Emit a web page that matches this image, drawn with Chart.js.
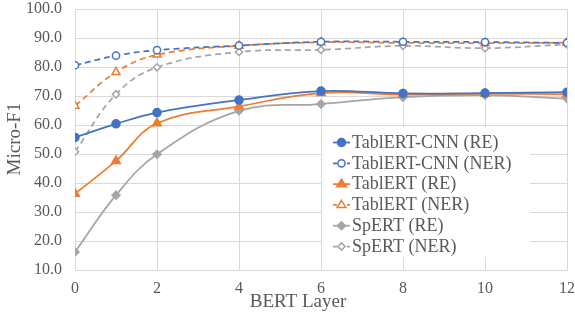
<!DOCTYPE html>
<html>
<head>
<meta charset="utf-8">
<script src="https://cdn.jsdelivr.net/npm/chart.js@4.4.0/dist/chart.umd.min.js"></script>
<style>
html,body{margin:0;padding:0;background:#fff;}
#wrap{width:575px;height:320px;}
</style>
</head>
<body>
<div id="wrap"><canvas id="c" width="575" height="320"></canvas></div>
<script>
const layers = [0, 1, 2, 4, 6, 8, 10, 12];
const xTicks = [0, 2, 4, 6, 8, 10, 12];
const yTicks = [10, 20, 30, 40, 50, 60, 70, 80, 90, 100];
const seriesNames = ["TablERT-CNN (RE)", "TablERT-CNN (NER)", "TablERT (RE)", "TablERT (NER)", "SpERT (RE)", "SpERT (NER)"];
const cnnRE  = [55.7, 60.4, 64.3, 68.6, 71.7, 70.9, 71.0, 71.3];
const cnnNER = [80.6, 83.9, 85.8, 87.4, 88.7, 88.7, 88.6, 88.3];
const tabRE  = [36.3, 47.6, 60.6, 66.4, 71.0, 70.5, 70.8, 70.6];
const tabNER = [66.6, 78.2, 84.2, 87.3, 88.5, 88.3, 88.2, 88.4];
const spRE   = [16.2, 35.8, 49.9, 64.9, 67.2, 69.6, 70.3, 69.1];
const spNER  = [50.8, 70.6, 79.9, 85.2, 85.9, 87.3, 86.5, 87.8];
const xTitle = "BERT Layer";
const yTitle = "Micro-F1";

const BLUE = "#4472C4", ORANGE = "#ED7D31", GRAY = "#A5A5A5";
const FONT = "'Liberation Serif', 'Times New Roman', serif";
const TXT = "#595959";

function pts(arr){ return layers.map((x,i)=>({x:x, y:arr[i]})); }

function ds(label, data, color, style, filled, dashed, radius){
  return {
    label: label, data: pts(data),
    borderColor: color, backgroundColor: filled ? color : "#ffffff",
    borderWidth: 1.75, borderDash: dashed ? [6,4] : [],
    pointStyle: style, pointRadius: radius, pointBorderWidth: 1.5,
    pointBorderColor: color, pointBackgroundColor: filled ? color : "#ffffff",
    tension: 0.4, fill: false
  };
}

const datasets = [
  ds(seriesNames[0], cnnRE,  BLUE,   "circle",   true,  false, 4),
  ds(seriesNames[1], cnnNER, BLUE,   "circle",   false, true,  3.6),
  ds(seriesNames[2], tabRE,  ORANGE, "triangle", true,  false, 5),
  ds(seriesNames[3], tabNER, ORANGE, "triangle", false, true,  4.6),
  ds(seriesNames[4], spRE,   GRAY,   "rectRot",  true,  false, 4),
  ds(seriesNames[5], spNER,  GRAY,   "rectRot",  false, true,  3.6)
];

function drawMarker(ctx, style, x, y, r, color, filled){
  ctx.save();
  ctx.setLineDash([]);
  ctx.beginPath();
  if(style === "circle"){
    ctx.arc(x, y, r, 0, Math.PI*2);
  } else if(style === "triangle"){
    ctx.moveTo(x, y - r);
    ctx.lineTo(x + r*0.866*1.1, y + r*0.5*1.1);
    ctx.lineTo(x - r*0.866*1.1, y + r*0.5*1.1);
    ctx.closePath();
  } else {
    ctx.moveTo(x, y - r); ctx.lineTo(x + r, y); ctx.lineTo(x, y + r); ctx.lineTo(x - r, y); ctx.closePath();
  }
  ctx.fillStyle = filled ? color : "#ffffff";
  ctx.fill();
  ctx.lineWidth = 1.5; ctx.strokeStyle = color; ctx.stroke();
  ctx.restore();
}

const extras = {
  id: "extras",
  afterDraw(chart){
    const ctx = chart.ctx;
    ctx.save();
    ctx.fillStyle = TXT;
    ctx.font = "19px " + FONT;
    ctx.textAlign = "center"; ctx.textBaseline = "middle";
    ctx.fillText(xTitle, 298, 302);
    ctx.translate(15, 139);
    ctx.rotate(-Math.PI/2);
    ctx.fillText(yTitle, 0, 0);
    ctx.restore();
    ctx.save();
    ctx.fillStyle = "#ffffff";
    ctx.fillRect(322, 127, 208, 130);
    ctx.font = "18px " + FONT;
    ctx.textAlign = "left"; ctx.textBaseline = "middle";
    chart.data.datasets.forEach((d, i) => {
      const y = 142.5 + i*20.8;
      ctx.save();
      ctx.strokeStyle = d.borderColor; ctx.lineWidth = 1.75;
      ctx.setLineDash(d.borderDash.length ? [4,3] : []);
      ctx.beginPath(); ctx.moveTo(333, y); ctx.lineTo(350, y); ctx.stroke();
      ctx.restore();
      drawMarker(ctx, d.pointStyle, 341.5, y, d.pointRadius, d.borderColor, d.pointBackgroundColor !== "#ffffff");
      ctx.fillStyle = TXT;
      ctx.fillText(d.label, 352, y + 0.5);
    });
    ctx.restore();
  }
};

new Chart(document.getElementById("c"), {
  type: "line",
  data: { datasets: datasets },
  options: {
    responsive: false, animation: false,
    layout: { padding: { left: 0, right: 8, top: 9, bottom: 0 } },
    plugins: { legend: { display: false }, tooltip: { enabled: false } },
    scales: {
      x: {
        type: "linear", min: 0, max: 12,
        afterBuildTicks(scale){ scale.ticks = xTicks.map(v => ({value: v})); },
        afterFit(scale){ scale.height = 50; scale.paddingLeft = 0; scale.paddingRight = 0; },
        ticks: { color: TXT, font: { family: FONT, size: 16 }, padding: 9, maxRotation: 0, autoSkip: false },
        grid: { color: "#d9d9d9", lineWidth: 1, drawTicks: false },
        border: { color: "#d9d9d9" }
      },
      y: {
        min: 10, max: 100,
        afterBuildTicks(scale){ scale.ticks = yTicks.map(v => ({value: v})); },
        afterFit(scale){ scale.width = 75; scale.paddingTop = 0; scale.paddingBottom = 0; },
        ticks: { color: TXT, font: { family: FONT, size: 16 }, padding: 13, callback: v => Number(v).toFixed(1) },
        grid: { color: "#d9d9d9", lineWidth: 1, drawTicks: false },
        border: { color: "#d9d9d9" }
      }
    }
  },
  plugins: [extras]
});
</script>
</body>
</html>
